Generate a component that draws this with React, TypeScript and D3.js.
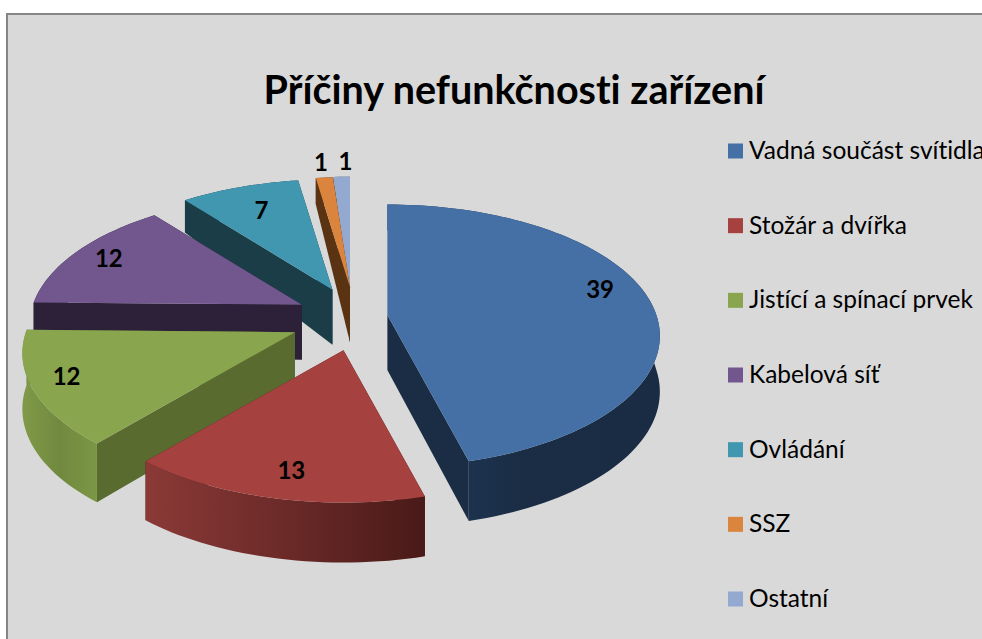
import React from "react";
import * as d3 from "d3";

const title = "Příčiny nefunkčnosti zařízení";
const categories = ["Vadná součást svítidla", "Stožár a dvířka", "Jistící a spínací prvek", "Kabelová síť", "Ovládání", "SSZ", "Ostatní"];
const values = [39, 13, 12, 12, 7, 1, 1];
const topColors = ["#4570a6", "#a5423f", "#89a54e", "#72578f", "#4197af", "#db843d", "#93a9cf"];
const cutColors = ["#1a2d45", "#4a1a18", "#5a6b30", "#2c2138", "#1a3d48", "#5a3312", "#3b4a63"];
const wallStops = [
  ["#1f3a5a", "#1a2d45", "#1a2c44"],
  ["#8a3a37", "#6b2a28", "#491a18"],
  ["#7f9a48", "#71893f", "#7b9745"],
  ["#2c2138", "#2c2138", "#2c2138"],
  ["#1a3d48", "#1a3d48", "#1a3d48"],
  ["#5a3312", "#5a3312", "#5a3312"],
  ["#3b4a63", "#3b4a63", "#3b4a63"],
];
const labelRadius = [0.84, 0.84, 0.87, 0.85, 0.74, 1.16, 1.16];
const labelTurn = [-0.11, -0.02, 0.03, 0, 0, 0, 0.02];
const explodeU = [0.14, 0.11, 0.225, 0.2, 0.165, 0, 0];

const W = 982, H = 639;
const cx = 350, cy = 319, A = 269, B = 128, k = 0.16, explodeV = 0.24 * 133;

const depth = d3.scaleLinear().domain([-1, 0, 1]).range([60, 55, 26]);

const arcs = d3.pie<number>().sort(null)(values);

const slices = arcs.map((a, i) => {
  const mid = (a.startAngle + a.endAngle) / 2;
  const ax = cx + A * explodeU[i] * Math.sin(mid);
  const ay = cy - explodeV * Math.cos(mid);
  const at = (r: number, t: number): [number, number] => {
    const v = r * Math.cos(t);
    const s = 1 / (1 + k * v);
    return [ax + A * r * Math.sin(t) * s, ay - B * v * s];
  };
  const bot = (r: number, t: number): [number, number] => {
    const [x, y] = at(r, t);
    return [x, y + depth(r * Math.cos(t))];
  };
  const n = Math.max(2, Math.ceil((a.endAngle - a.startAngle) / 0.03));
  const ts = d3.range(n + 1).map((j) => a.startAngle + ((a.endAngle - a.startAngle) * j) / n);
  const line = d3.line();
  const poly = (pts: [number, number][]) => line(pts) + "Z";
  const xs = ts.map((t) => at(1, t)[0]);
  return {
    i,
    apexY: ay,
    x0: d3.min(xs)!,
    x1: d3.max(xs)!,
    cutA: poly([at(0, 0), at(1, a.startAngle), bot(1, a.startAngle), bot(0, 0)]),
    cutB: poly([at(0, 0), at(1, a.endAngle), bot(1, a.endAngle), bot(0, 0)]),
    wall: poly([...ts.map((t) => at(1, t)), ...ts.slice().reverse().map((t) => bot(1, t))]),
    face: poly([at(0, 0), ...ts.map((t) => at(1, t))]),
    lp: at(labelRadius[i], mid + labelTurn[i]),
  };
});
const ordered = slices.slice().sort((a, b) => a.apexY - b.apexY);

const legendY = d3.scalePoint<number>().domain(d3.range(categories.length)).range([151, 599]);
const font = "Lato, Carlito, 'Open Sans', sans-serif";

export default function App() {
  return (
    <svg width={W} height={H} style={{ position: "absolute", left: 0, top: 0, fontVariantLigatures: "none" }} fontFamily={font}>
      <rect width={W} height={H} fill="#ffffff" />
      <rect x={7} y={14} width={W + 20} height={H + 20} fill="#d9d9d9" stroke="#868686" strokeWidth={2} />
      <defs>
        {slices.map((s) => (
          <linearGradient key={s.i} id={`wall${s.i}`} gradientUnits="userSpaceOnUse" x1={s.x0} x2={s.x1} y1={0} y2={0}>
            {wallStops[s.i].map((c, j) => (
              <stop key={j} offset={j / 2} stopColor={c} />
            ))}
          </linearGradient>
        ))}
      </defs>
      <text x={514} y={104} textAnchor="middle" fontSize={39.5} fontWeight={700} fill="#000">{title}</text>
      {ordered.map((s) => (
        <g key={s.i}>
          <path d={s.cutA} fill={cutColors[s.i]} />
          <path d={s.cutB} fill={cutColors[s.i]} />
          <path d={s.wall} fill={`url(#wall${s.i})`} />
          <path d={s.face} fill={topColors[s.i]} />
        </g>
      ))}
      {slices.map((s) => (
        <text key={s.i} x={s.lp[0]} y={s.lp[1] + 8} textAnchor="middle" fontSize={24} fontWeight={700} fill="#000">
          {values[s.i]}
        </text>
      ))}
      {categories.map((c, i) => (
        <g key={c}>
          <rect x={728} y={legendY(i)! - 7.5} width={15} height={15} fill={topColors[i]} />
          <text x={749} y={legendY(i)! + 8} fontSize={24.5} fill="#000">{c}</text>
        </g>
      ))}
    </svg>
  );
}
